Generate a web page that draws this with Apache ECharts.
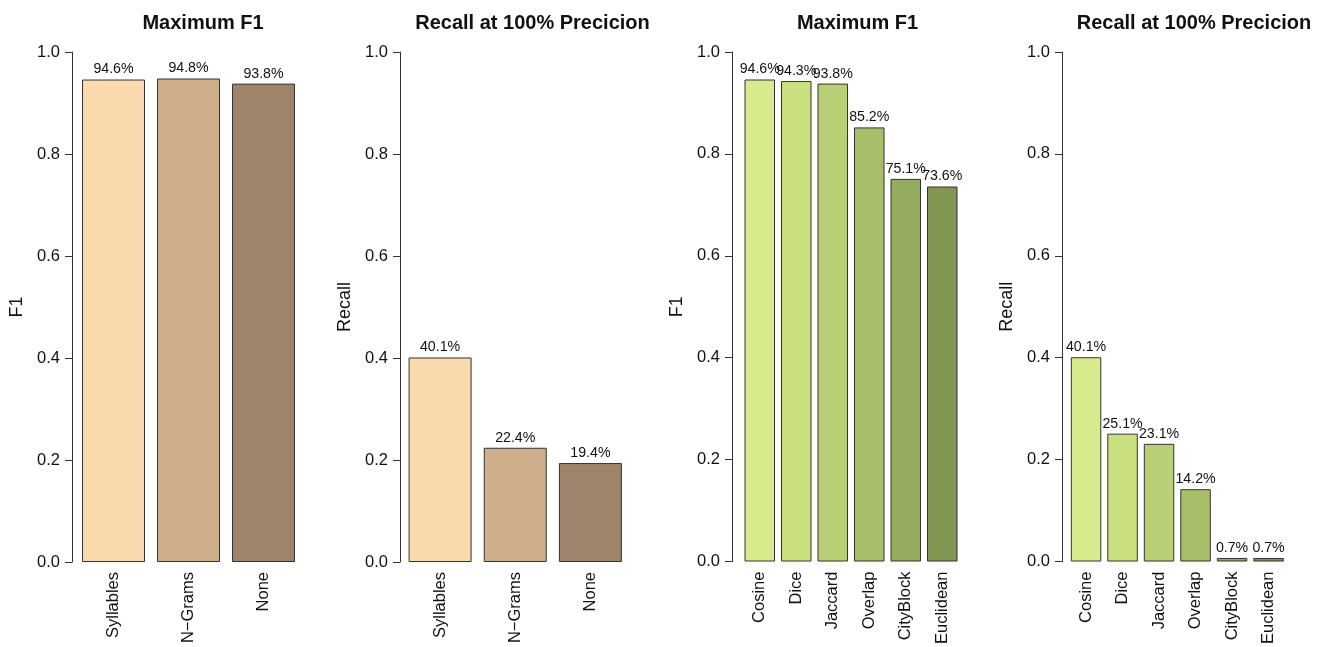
<!DOCTYPE html>
<html><head><meta charset="utf-8">
<script src="https://cdn.jsdelivr.net/npm/echarts@6/dist/echarts.min.js"></script>
<style>html,body{margin:0;padding:0;background:#fff}#c{width:1320px;height:647px}</style>
</head><body><div id="c"></div>
<script>
const titles = ["Maximum F1", "Recall at 100% Precicion", "Maximum F1", "Recall at 100% Precicion"];
const yNames = ["F1", "Recall", "F1", "Recall"];
const catsA = ["Syllables", "N\u2212Grams", "None"];
const catsB = ["Cosine", "Dice", "Jaccard", "Overlap", "CityBlock", "Euclidean"];
const f1A = [0.946, 0.948, 0.938];
const recallA = [0.401, 0.224, 0.194];
const f1B = [0.946, 0.943, 0.938, 0.852, 0.751, 0.736];
const recallB = [0.401, 0.251, 0.231, 0.142, 0.007, 0.007];
const colorsA = ["#FBD9AF", "#CFAF8B", "#9E846A"];
const colorsB = ["#D7EB8D", "#CAE07F", "#B9CF76", "#A8BF6A", "#95AB5E", "#829653"];
const yTicks = [0, 0.2, 0.4, 0.6, 0.8, 1.0];

const FONT = "Liberation Sans, Arial, sans-serif";
const panels = [
  {cats: catsA, vals: f1A, colors: colorsA, left: 76, width: 225, axisX: 72, barW: 63, titleX: 198},
  {cats: catsA, vals: recallA, colors: colorsA, left: 402.5, width: 225.5, axisX: 400, barW: 63, titleX: 527.5},
  {cats: catsB, vals: f1B, colors: colorsB, left: 741.5, width: 219, axisX: 732, barW: 30.5, titleX: 852.5},
  {cats: catsB, vals: recallB, colors: colorsB, left: 1067.8, width: 219, axisX: 1062, barW: 30.5, titleX: 1189}
];
const TOP = 52, BOTTOM_Y = 562;
const grid = [], xAxis = [], yAxis = [], series = [], title = [];
panels.forEach((p, i) => {
  grid.push({left: p.left, width: p.width, top: TOP, height: BOTTOM_Y - TOP});
  title.push({text: titles[i], left: p.titleX, top: 8, textAlign: 'center',
    textStyle: {fontFamily: FONT, fontSize: 20, fontWeight: 'bold', color: '#111'}});
  xAxis.push({type: 'category', gridIndex: i, data: p.cats,
    axisLine: {show: false}, axisTick: {show: false},
    axisLabel: {rotate: 90, margin: 10, fontFamily: FONT, fontSize: 16.5, color: '#111', interval: 0}});
  yAxis.push({type: 'value', gridIndex: i, min: 0, max: 1, interval: 0.2,
    offset: p.left - p.axisX,
    name: yNames[i], nameLocation: 'middle', nameGap: 46, nameRotate: 90,
    nameTextStyle: {fontFamily: FONT, fontSize: 18, color: '#111'},
    axisLine: {show: true, lineStyle: {color: '#333', width: 1}},
    axisTick: {show: true, length: 7, lineStyle: {color: '#333'}},
    splitLine: {show: false},
    axisLabel: {margin: 12, fontFamily: FONT, fontSize: 16.5, color: '#111', formatter: v => v.toFixed(1)}});
  series.push({type: 'bar', xAxisIndex: i, yAxisIndex: i, barWidth: p.barW,
    data: p.vals.map((v, j) => ({value: v, itemStyle: {color: p.colors[j]}})),
    itemStyle: {borderColor: '#333', borderWidth: 1},
    label: {show: true, position: 'top', distance: 3, fontFamily: FONT, fontSize: 14.2, color: '#111',
      formatter: d => (d.value * 100).toFixed(1) + '%'}});
});
const chart = echarts.init(document.getElementById('c'), null, {renderer: 'canvas'});
chart.setOption({animation: false, backgroundColor: '#fff', title, grid, xAxis, yAxis, series});
</script></body></html>
